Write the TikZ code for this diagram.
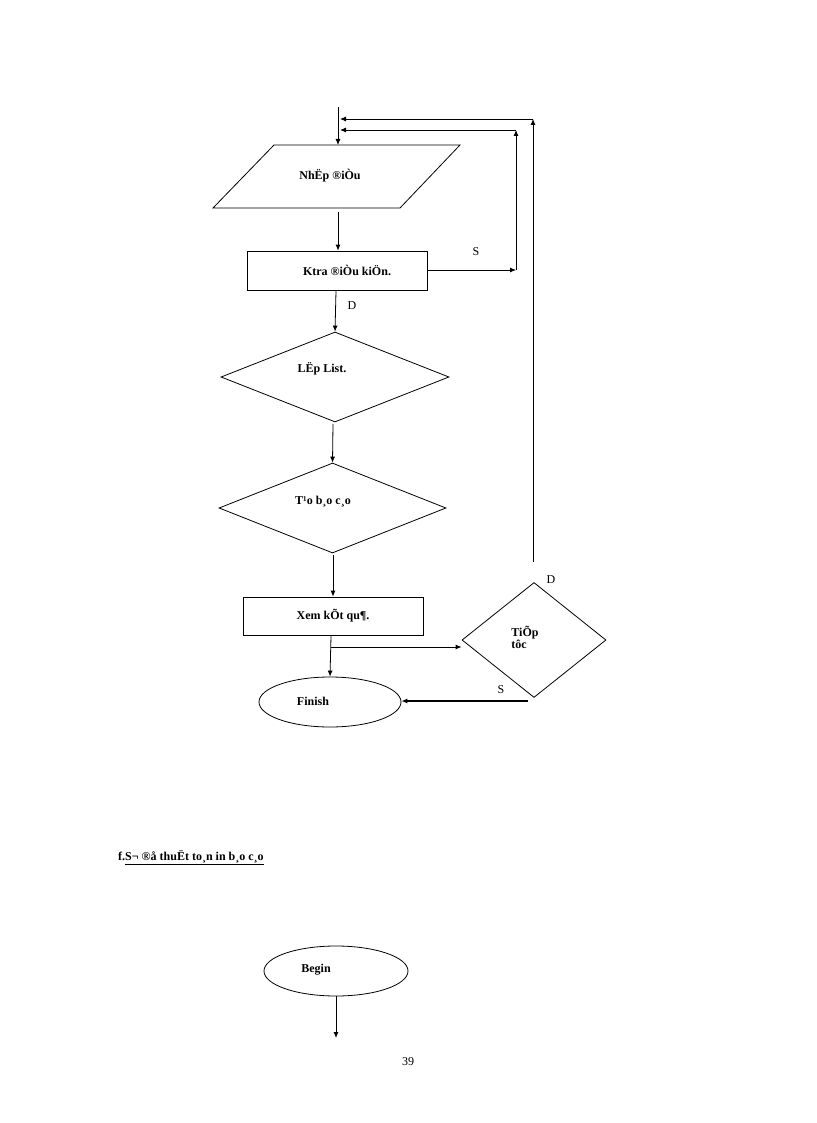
\documentclass[tikz,border=0pt]{standalone}
\usepackage{fontspec}
\setmainfont{Liberation Serif}
\usetikzlibrary{shapes.geometric,arrows.meta}
\begin{document}
\begin{tikzpicture}[x=1pt,y=-1pt,
  line/.style={draw=black,line width=0.8pt},
  arr/.style={line,-{Latex[length=6pt,width=5pt]}},
  lbl/.style={font=\bfseries\fontsize{12}{14}\selectfont},
  plain/.style={font=\fontsize{12}{14}\selectfont}]
\useasboundingbox (0,0) rectangle (816,1123);
\coordinate (top) at (338,107);
\draw[line] (274,145) -- (460,145) -- (400,208) -- (213,208) -- cycle;
\node[lbl] (nhap) at (330,176) {NhËp ®iÒu};
\draw[arr] (top) -- (338,145);
\node[line,rectangle,minimum width=180pt,minimum height=39pt,inner sep=0pt] (ktra) at (337,270.5) {};
\node[lbl] at (347,270) {Ktra ®iÒu kiÖn.};
\draw[arr] (338,212) -- (ktra.north -| 338,0);
\coordinate (s1) at (516,270);
\coordinate (s1t) at (516,130);
\coordinate (l1) at (340,130);
\draw[arr] (ktra.east |- s1) -- (s1);
\draw[arr] (s1) -- (s1t);
\draw[arr] (s1t) -- (l1);
\node[plain] at (476,252) {S};
\node[line,diamond,minimum width=228pt,minimum height=90pt,inner sep=0pt,aspect=2.53] (lap) at (335,377) {};
\node[lbl] at (322,369) {LËp List.};
\draw[arr] (336,291) -- (lap.north);
\node[plain] at (352,306) {D};
\node[line,diamond,minimum width=227pt,minimum height=90pt,inner sep=0pt,aspect=2.52] (tao) at (332.5,508) {};
\node[lbl] at (323,502) {T¹o b¸o c¸o};
\draw[arr] (333,424) -- (tao.north);
\node[line,rectangle,minimum width=180pt,minimum height=38pt,inner sep=0pt] (xem) at (333,616) {};
\node[lbl] at (333,616) {Xem kÕt qu¶.};
\draw[arr] (333,555) -- (xem.north);
\node[line,diamond,minimum width=144pt,minimum height=115pt,inner sep=0pt,aspect=1.25] (tiep) at (534,640) {};
\node[lbl,align=left] at (525,637) {TiÕp\\[-2pt]tôc};
\node[line,ellipse,minimum width=142pt,minimum height=50pt,inner sep=0pt] (fin) at (330,702) {};
\node[lbl] at (313,701) {Finish};
\coordinate (br) at (331,647);
\draw[arr] (331,636) -- (fin.north);
\draw[arr] (br) -- (tiep.west |- br);
\coordinate (d1) at (533,562);
\coordinate (d1t) at (533,119);
\coordinate (l2) at (340,119);
\draw[arr] (d1) -- (d1t);
\draw[arr] (d1t) -- (l2);
\node[plain] at (551,580) {D};
\coordinate (sr) at (528,701);
\draw[arr,line width=1.3pt] (sr) -- (fin.east |- sr);
\node[plain] at (501,690) {S};
\node[lbl,anchor=base west,inner sep=0pt] (head) at (118,860) {f.\underline{S¬ ®å thuËt to¸n in b¸o c¸o}};
\node[line,ellipse,minimum width=144pt,minimum height=50pt,inner sep=0pt] (beg) at (336,971) {};
\node[lbl] at (316,970) {Begin};
\coordinate (bend) at (336,1038);
\draw[arr] (beg.south) -- (bend);
\node[plain] (pg) at (408,1062) {39};
\end{tikzpicture}
\end{document}
